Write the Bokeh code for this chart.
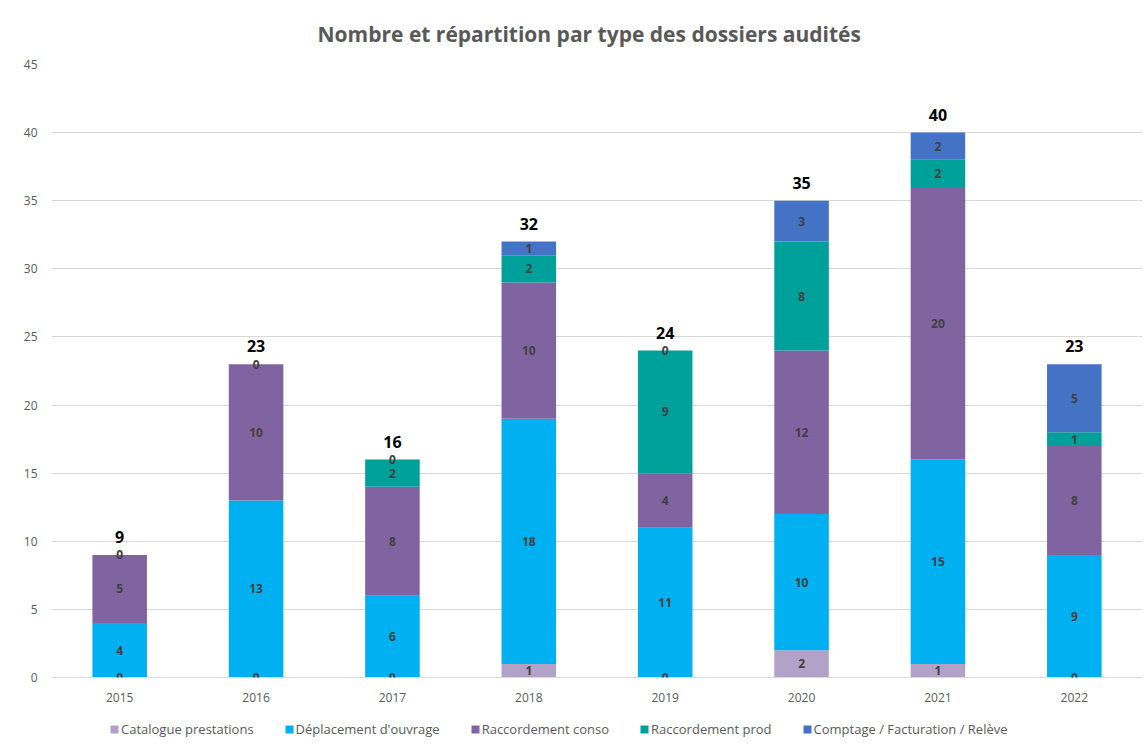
import numpy as np
from bokeh.plotting import figure
from bokeh.layouts import column
from bokeh.models import (ColumnDataSource, Legend, LegendItem, LabelSet,
                          FixedTicker, Range1d, Title, FactorRange)
from bokeh.core.properties import value
from bokeh.embed import file_html
from bokeh.resources import INLINE

years = ["2015", "2016", "2017", "2018", "2019", "2020", "2021", "2022"]
catalogue = [0, 0, 0, 1, 0, 2, 1, 0]
deplacement = [4, 13, 6, 18, 11, 10, 15, 9]
conso = [5, 10, 8, 10, 4, 12, 20, 8]
prod = [0, 0, 2, 2, 9, 8, 2, 1]
comptage = [None, None, 0, 1, 0, 3, 2, 5]

series_names = ["Catalogue prestations", "Déplacement d'ouvrage",
                "Raccordement conso", "Raccordement prod",
                "Comptage / Facturation / Relève"]
series_values = [catalogue, deplacement, conso, prod, comptage]
colors = ["#B3A2C7", "#00B0F0", "#8064A2", "#00A09A", "#4472C4"]
keys = ["s0", "s1", "s2", "s3", "s4"]

FONT = "Open Sans"

data = {"year": years}
for k, vals in zip(keys, series_values):
    data[k] = [0 if v is None else v for v in vals]
src = ColumnDataSource(data)

p = figure(x_range=FactorRange(*years), y_range=Range1d(0, 45),
           width=1146, height=712, output_backend="svg",
           toolbar_location=None,
           min_border_left=51, min_border_right=4,
           min_border_top=64, min_border_bottom=35)
p.outline_line_color = None

renderers = p.vbar_stack(keys, x="year", width=0.4, color=colors,
                         line_color=None, source=src)

# segment labels
lx, ly, lt = [], [], []
cum = np.zeros(len(years))
for vals in series_values:
    arr = np.array([0 if v is None else v for v in vals], dtype=float)
    for i, v in enumerate(vals):
        if v is not None:
            lx.append(years[i])
            ly.append(cum[i] + arr[i] / 2.0)
            lt.append(str(v))
    cum = cum + arr
lab_src = ColumnDataSource(dict(x=lx, y=ly, t=lt))
p.add_layout(LabelSet(x="x", y="y", text="t", source=lab_src,
                      text_align="center", text_baseline="middle",
                      text_font=value(FONT), text_font_size=value("12px"),
                      text_font_style=value("bold"), text_color=value("#404040")))

# totals
tot_src = ColumnDataSource(dict(x=years, y=list(cum),
                                t=[str(int(v)) for v in cum]))
p.add_layout(LabelSet(x="x", y="y", text="t", source=tot_src,
                      y_offset=18, text_align="center",
                      text_baseline="middle", text_font=value(FONT),
                      text_font_size=value("16px"), text_font_style=value("bold"),
                      text_color=value("#000000")))

# axes
p.yaxis.ticker = FixedTicker(ticks=list(range(0, 50, 5)))
p.yaxis.axis_line_color = None
p.yaxis.major_tick_line_color = None
p.yaxis.minor_tick_line_color = None
p.yaxis.major_label_text_font = FONT
p.yaxis.major_label_text_font_size = "12px"
p.yaxis.major_label_text_color = "#595959"
p.yaxis.major_label_standoff = 8

p.xaxis.axis_line_color = "#D9D9D9"
p.xaxis.major_tick_line_color = None
p.xaxis.minor_tick_line_color = None
p.xaxis.major_label_text_font = FONT
p.xaxis.major_label_text_font_size = "12px"
p.xaxis.major_label_text_color = "#595959"
p.xaxis.major_label_standoff = 9

p.xgrid.grid_line_color = None
p.ygrid.grid_line_color = "#D9D9D9"

title = Title(text="Nombre et répartition par type des dossiers audités",
              align="left", text_font=FONT, text_font_size="21px",
              text_font_style="bold", text_color="#595959", standoff=33,
              offset=266)
p.add_layout(title, "above")

# legend strip below the chart (same series; its bars are hidden)
pl = figure(width=1146, height=37, output_backend="svg", toolbar_location=None,
            x_range=FactorRange(*years), y_range=Range1d(-10, -5),
            x_axis_type=None, y_axis_type=None,
            min_border_left=0, min_border_right=0,
            min_border_top=0, min_border_bottom=0)
pl.outline_line_color = None
pl.grid.visible = False
leg_renderers = pl.vbar_stack(keys, x="year", width=0.4, color=colors,
                              line_color=None, source=src)
for r in leg_renderers:
    r.visible = False
items = [LegendItem(label=n, renderers=[r]) for n, r in zip(series_names, leg_renderers)]
legend = Legend(items=items, orientation="horizontal", location=(58, 11),
                click_policy="none",
                label_text_font=FONT, label_text_font_size="13px",
                label_text_color="#595959", glyph_width=10, glyph_height=10,
                spacing=30, label_standoff=2, padding=2, margin=0,
                border_line_color=None, background_fill_alpha=0)
pl.add_layout(legend, "center")

layout = column(p, pl, spacing=0)
open("out.html", "w").write(file_html(layout, INLINE))
